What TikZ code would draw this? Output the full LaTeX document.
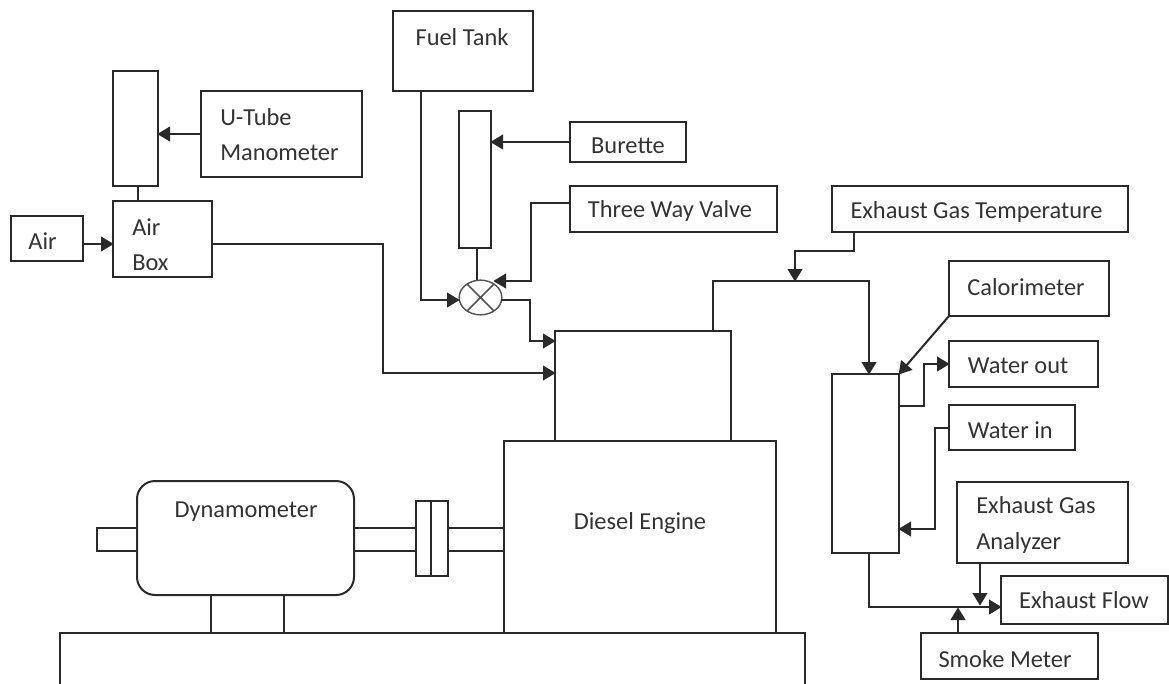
\documentclass[tikz,border=0pt]{standalone}
\usepackage{fontspec}
\setmainfont{Carlito}
\usetikzlibrary{arrows.meta,shapes.geometric}
\definecolor{ink}{HTML}{2A2A2A}
\definecolor{txt}{HTML}{333333}
\tikzset{
  boxn/.style={draw=ink,line width=1.5pt,rectangle,inner sep=0pt,outer sep=0pt},
  lab/.style={text=txt,inner sep=0pt,align=left,font=\fontsize{18.3}{26.3}\selectfont},
  wire/.style={draw=ink,line width=1.5pt,line join=miter},
  arr/.style={wire,-{Triangle[length=9.5pt,width=11pt]},shorten >=-0.5pt},
  thin part/.style={draw=ink!80,line width=1.1pt}
}
\newcommand{\bx}[6][]{\node[boxn,#1,minimum width={(#5-#3)*0.75pt},minimum height={(#6-#4)*0.75pt}] (#2) at ({(#3+#5)/2},{(#4+#6)/2}) {};}
\begin{document}
\begin{tikzpicture}[x=0.75pt,y=-0.75pt]
\useasboundingbox (0,0) rectangle (1169,684);
% boxes
\bx{air}{11}{216}{83}{261}
\bx{airbox}{113}{201}{212}{277}
\bx{tube}{113}{71}{158}{186}
\bx{ubox}{201}{91}{362}{177}
\bx{fuel}{393}{11}{533}{91}
\bx{burtube}{459}{111}{491}{248}
\bx{burbox}{570}{122}{686}{162}
\bx{tvbox}{570}{186}{777}{232}
\bx{egt}{832}{186}{1128}{232}
\bx{cal}{949}{261}{1109}{316}
\bx{wout}{949}{341}{1098}{387}
\bx{win}{949}{405}{1075}{450}
\bx{ega}{957}{482}{1128}{563}
\bx{eflow}{1001}{576}{1168}{624}
\bx{smoke}{921}{633}{1098}{679}
\bx{calor}{832}{374}{899}{553}
\bx{head}{555}{331}{731}{441}
\bx{engine}{504}{441}{776}{633}
\bx[rounded corners=13.5pt]{dyn}{137}{481}{354}{595}
\bx{stub}{97}{528}{137}{551}
\bx{shaft}{354}{528}{416}{551}
\bx{couple}{416}{501}{448}{576}
\bx{shaftb}{448}{528}{504}{551}
\bx{foot}{211}{595}{284}{633}
% valve
\node[ellipse,thin part,minimum width=32pt,minimum height=26pt,inner sep=0pt,outer sep=0pt] (valve) at (480.5,297.5) {};
\draw[thin part] (valve.45) -- (valve.225) (valve.135) -- (valve.315);
% coupling mid line
\coordinate (cpt) at (431,501);
\coordinate (cpb) at (431,576);
\draw[wire] (cpt) -- (cpb);
% base
\coordinate (bl) at (60,684);
\coordinate (btl) at (60,633);
\coordinate (btr) at (805,633);
\coordinate (br) at (805,684);
\draw[wire] (bl) -- (btl) -- (btr) -- (br);
% labels
\node[lab] (tair) at (42.5,241) {Air};
\node[lab,anchor=west] (tairbox) at (132,245) {Air\\Box};
\node[lab,anchor=west] (tu) at (220,134.5) {U-Tube\\Manometer};
\node[lab] (tfuel) at (462,37) {Fuel Tank};
\node[lab] (tbur) at (628,146) {Burette};
\node[lab] (ttv) at (670,211) {Three Way Valve};
\node[lab] (tegt) at (976.5,212) {Exhaust Gas Temperature};
\node[lab] (tcal) at (1026,287) {Calorimeter};
\node[lab,anchor=west] (twout) at (967.7,365.7) {Water out};
\node[lab,anchor=west] (twin) at (967.7,430) {Water in};
\node[lab,anchor=west] (tega) at (976,525) {Exhaust Gas\\Analyzer};
\node[lab] (tflow) at (1084,600) {Exhaust Flow};
\node[lab] (tsmoke) at (1005,659) {Smoke Meter};
\node[lab] (tdyn) at (246,512) {Dynamometer};
\node[lab] (tdiesel) at (640,523) {Diesel Engine};
% ports
\coordinate (airout) at (212,244);
\coordinate (airin) at (113,244);
\coordinate (aira) at (83,244);
\coordinate (tubefoot) at (138,186);
\coordinate (boxtop) at (138,201);
\coordinate (fuelout) at (421,91);
\coordinate (headair) at (555,373);
\coordinate (headfuel) at (555,341);
\coordinate (vout) at (501,300);
\coordinate (tvout) at (570,203);
\coordinate (vin) at (494,281);
\coordinate (vleft) at (459,300);
\coordinate (egtout) at (854,232);
\coordinate (egtbend) at (795,251);
\coordinate (pipej) at (795,281);
\coordinate (headout) at (713,331);
\coordinate (pipebend) at (869,281);
\coordinate (calin) at (869,374);
\coordinate (calarr) at (899,374);
\coordinate (calout) at (899,406);
\coordinate (woutin) at (949,364);
\coordinate (winout) at (949,428);
\coordinate (calwin) at (899,529);
\coordinate (calbot) at (869,553);
\coordinate (flowin) at (1001,607);
\coordinate (egaout) at (980,563);
\coordinate (egain) at (980,605);
\coordinate (smout) at (958,633);
\coordinate (smin) at (958,608);
% connectors
\draw[arr] (aira) -- (airin);
\draw[wire] (tubefoot) -- (boxtop);
\draw[arr] (ubox.west) -- (ubox.west -| tube.east);
\draw[arr] (airout) -| (383,373) -- (headair);
\draw[arr] (fuelout) |- (vleft);
\draw[arr] (burbox.west) -- (burbox.west -| burtube.east);
\draw[wire] (477,248) -- (477,280);
\draw[arr] (tvout) -| (531,281) -- (vin);
\draw[arr] (vout) -| (530,341) -- (headfuel);
\draw[arr] (egtout) |- (egtbend) -- (pipej);
\draw[arr] (headout) |- (pipebend) -- (calin);
\draw[arr] (cal.south west) -- (calarr);
\draw[arr] (calout) -| (924,364) -- (woutin);
\draw[arr] (winout) -| (935,529) -- (calwin);
\draw[arr] (calbot) |- (flowin);
\draw[arr] (egaout) -- (egain);
\draw[arr] (smout) -- (smin);
\end{tikzpicture}
\end{document}
